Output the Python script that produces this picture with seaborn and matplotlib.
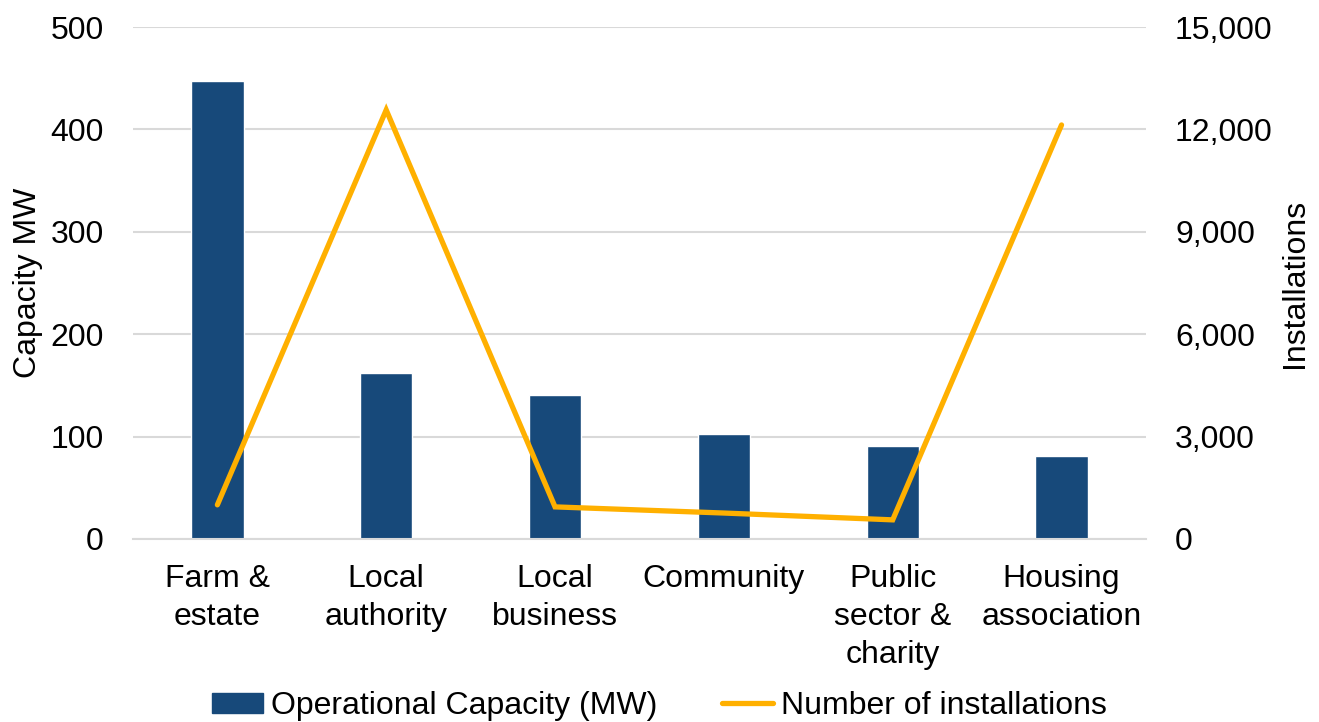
import matplotlib
matplotlib.use("Agg")
import matplotlib.pyplot as plt
import seaborn as sns
import pandas as pd
from matplotlib.patches import Patch
from matplotlib.lines import Line2D

categories = ["Farm &\nestate", "Local\nauthority", "Local\nbusiness", "Community",
              "Public\nsector &\ncharity", "Housing\nassociation"]
capacity_mw = [447, 162, 141, 103, 91, 81]
installations = [1000, 12570, 940, 760, 560, 12130]
left_ticks = [0, 100, 200, 300, 400, 500]
right_ticks = [0, 3000, 6000, 9000, 12000, 15000]

BAR = "#17497A"
LINE = "#FFB000"
GRID = "#D9D9D9"
FS = 23

sns.set_theme(style="white")
plt.rcParams["font.family"] = ["Liberation Sans", "DejaVu Sans"]
plt.rcParams["font.size"] = FS
plt.rcParams["text.color"] = "#000000"
plt.rcParams["axes.labelcolor"] = "#000000"
plt.rcParams["xtick.color"] = "#000000"
plt.rcParams["ytick.color"] = "#000000"

df = pd.DataFrame({"category": categories, "capacity": capacity_mw,
                   "installations": installations})

fig = plt.figure(figsize=(13.19, 7.22), dpi=100)
ax = fig.add_axes([0.1008, 0.2535, 0.7680, 0.7091])

sns.barplot(data=df, x="category", y="capacity", color=BAR, width=0.31,
            saturation=1, ax=ax, zorder=2)
ax.set_ylim(0, 500)
ax.set_yticks(left_ticks)
ax.set_yticklabels([f"{v:,}" for v in left_ticks], fontsize=FS, color="#000000")
ax.yaxis.grid(True, color=GRID, linewidth=1.5, zorder=0)
ax.set_axisbelow(True)
ax.set_xlabel("")
ax.set_ylabel("Capacity MW", fontsize=FS, color="#000000", labelpad=5)
ax.tick_params(axis="y", length=0, pad=21)
ax.tick_params(axis="x", length=0, pad=18)
for lbl in ax.get_xticklabels():
    lbl.set_fontsize(FS)
    lbl.set_color("#000000")
    lbl.set_linespacing(1.34)
    lbl.set_verticalalignment("top")
for s in ["top", "left", "right"]:
    ax.spines[s].set_visible(False)
ax.spines["bottom"].set_color(GRID)
ax.spines["bottom"].set_linewidth(1.5)
ax.set_xlim(-0.5, len(categories) - 0.5)

ax2 = ax.twinx()
sns.lineplot(data=df, x="category", y="installations", color=LINE, linewidth=3.8,
             sort=False, ax=ax2, solid_capstyle="round", solid_joinstyle="miter")
ax2.set_ylim(0, 15000)
ax2.set_yticks(right_ticks)
ax2.set_yticklabels([f"{v:,}" for v in right_ticks], fontsize=FS, color="#000000")
ax2.set_ylabel("Installations", fontsize=FS, color="#000000", labelpad=5)
ax2.tick_params(axis="y", length=0, pad=21)
for s in ax2.spines.values():
    s.set_visible(False)
ax2.set_xlim(-0.5, len(categories) - 0.5)

handles = [Patch(facecolor=BAR, edgecolor=BAR),
           Line2D([0], [0], color=LINE, linewidth=3.8)]
fig.legend(handles, ["Operational Capacity (MW)", "Number of installations"],
           loc="center", bbox_to_anchor=(0.5, 0.022), ncol=2, frameon=False,
           fontsize=FS, handlelength=1.6, handleheight=0.6, handletextpad=0.25,
           columnspacing=2.0, labelcolor="#000000")

fig.savefig("out.png", dpi=100)
